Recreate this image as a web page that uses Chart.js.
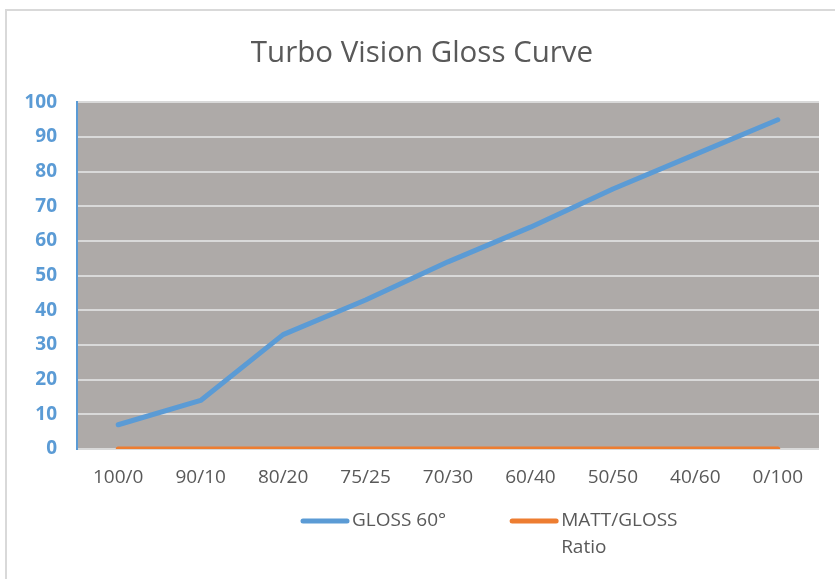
<!DOCTYPE html>
<html>
<head>
<meta charset="utf-8">
<script src="https://cdn.jsdelivr.net/npm/chart.js@4"></script>
<style>
  html, body { margin: 0; padding: 0; background: #ffffff; }
  canvas { display: block; }
</style>
</head>
<body>
<canvas id="c" width="835" height="579"></canvas>
<script>
const chartTitle = 'Turbo Vision Gloss Curve';
const categories = ['100/0', '90/10', '80/20', '75/25', '70/30', '60/40', '50/50', '40/60', '0/100'];
const gloss60 = [7, 14, 33, 43, 54, 64, 75, 85, 95];
const mattGlossRatio = [0, 0, 0, 0, 0, 0, 0, 0, 0];
const seriesNames = ['GLOSS 60°', 'MATT/GLOSS Ratio'];
const yTicks = [0, 10, 20, 30, 40, 50, 60, 70, 80, 90, 100];

const BLUE = '#5B9BD5';
const ORANGE = '#ED7D31';
const TEXT = '#595959';
const FONT = "'Open Sans', 'Noto Sans', sans-serif";

const framePlugin = {
  id: 'frame',
  beforeDraw(chart) {
    const ctx = chart.ctx;
    ctx.save();
    ctx.fillStyle = '#ffffff';
    ctx.fillRect(0, 0, chart.width, chart.height);
    ctx.strokeStyle = '#D9D9D9';
    ctx.lineWidth = 2;
    ctx.beginPath();
    ctx.moveTo(6, chart.height + 5);
    ctx.lineTo(6, 10);
    ctx.lineTo(chart.width + 5, 10);
    ctx.stroke();
    const a = chart.chartArea;
    ctx.fillStyle = '#AEAAA8';
    ctx.fillRect(a.left, a.top, a.right - a.left, a.bottom - a.top);
    ctx.restore();
  }
};

function wrapWords(ctx, text, maxW) {
  const words = text.split(' ');
  const lines = [];
  let cur = '';
  words.forEach(w => {
    const t = cur ? cur + ' ' + w : w;
    if (cur && ctx.measureText(t).width > maxW) { lines.push(cur); cur = w; }
    else cur = t;
  });
  if (cur) lines.push(cur);
  return lines;
}

const legendPlugin = {
  id: 'customLegend',
  afterDraw(chart) {
    const ctx = chart.ctx;
    ctx.save();
    ctx.font = "19px " + FONT;
    ctx.textBaseline = 'middle';
    ctx.textAlign = 'left';
    let x = 301;
    const y = 521;
    const lineH = 27;
    chart.data.datasets.forEach((ds, i) => {
      ctx.strokeStyle = ds.borderColor;
      ctx.lineWidth = 5;
      ctx.lineCap = 'round';
      ctx.beginPath();
      ctx.moveTo(x + 2, y);
      ctx.lineTo(x + 46, y);
      ctx.stroke();
      const lines = wrapWords(ctx, ds.label, 130);
      ctx.fillStyle = TEXT;
      let w = 0;
      lines.forEach((ln, k) => {
        ctx.fillText(ln, x + 51, y + k * lineH);
        w = Math.max(w, ctx.measureText(ln).width);
      });
      x += 51 + w + 64;
    });
    ctx.restore();
  }
};

new Chart(document.getElementById('c'), {
  type: 'line',
  data: {
    labels: categories,
    datasets: [
      {
        label: seriesNames[0],
        data: gloss60,
        borderColor: BLUE,
        backgroundColor: BLUE,
        borderWidth: 5,
        borderCapStyle: 'round',
        borderJoinStyle: 'round',
        pointRadius: 0,
        tension: 0,
        fill: false
      },
      {
        label: seriesNames[1],
        data: mattGlossRatio,
        borderColor: ORANGE,
        backgroundColor: ORANGE,
        borderWidth: 5,
        borderCapStyle: 'round',
        borderJoinStyle: 'round',
        pointRadius: 0,
        tension: 0,
        fill: false
      }
    ]
  },
  options: {
    responsive: false,
    devicePixelRatio: 1,
    animation: false,
    layout: { padding: { left: 25, right: 16, top: 0, bottom: 90 } },
    plugins: {
      legend: { display: false },
      tooltip: { enabled: false },
      title: {
        display: true,
        text: chartTitle,
        color: TEXT,
        font: { family: FONT, size: 29.5, weight: 'normal' },
        padding: { top: 36, bottom: 31 }
      }
    },
    scales: {
      x: {
        offset: true,
        grid: { display: false, drawTicks: false },
        border: { display: false },
        ticks: {
          color: TEXT,
          font: { family: FONT, size: 19 },
          padding: 17,
          maxRotation: 0,
          autoSkip: false
        },
        afterFit(scale) { scale.height = 40; }
      },
      y: {
        min: 0,
        max: 100,
        afterBuildTicks(scale) { scale.ticks = yTicks.map(v => ({ value: v })); },
        grid: { color: '#D9D9D9', lineWidth: 2, drawTicks: false },
        border: { display: true, color: BLUE, width: 2 },
        ticks: {
          color: BLUE,
          font: { family: FONT, size: 19, weight: 'bold' },
          padding: 20
        },
        afterFit(scale) { scale.width = 52; }
      }
    }
  },
  plugins: [framePlugin, legendPlugin]
});
</script>
</body>
</html>
